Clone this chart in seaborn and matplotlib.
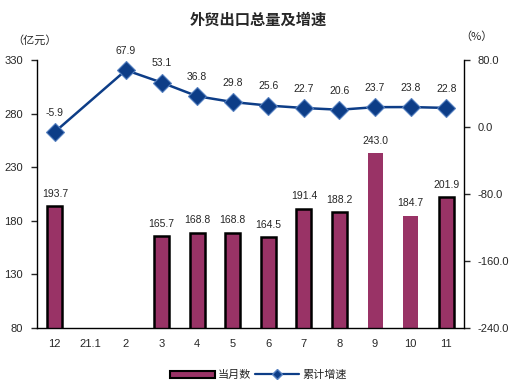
import numpy as np
import pandas as pd
import matplotlib
matplotlib.use("Agg")
import matplotlib.pyplot as plt
import seaborn as sns
from matplotlib.lines import Line2D
from matplotlib.patches import Patch

months = ["12", "21.1", "2", "3", "4", "5", "6", "7", "8", "9", "10", "11"]
monthly = [193.7, np.nan, np.nan, 165.7, 168.8, 168.8, 164.5, 191.4, 188.2, 243.0, 184.7, 201.9]
growth = [-5.9, np.nan, 67.9, 53.1, 36.8, 29.8, 25.6, 22.7, 20.6, 23.7, 23.8, 22.8]
no_outline = ["9", "10"]

sns.set_style("white")
plt.rcParams["font.family"] = ["Liberation Sans", "Noto Sans CJK SC", "DejaVu Sans"]
plt.rcParams["font.size"] = 7.5

bar_color = "#993366"
line_color = "#0d3d87"
marker_edge = "#5580c0"

df = pd.DataFrame({"month": months, "monthly": monthly, "growth": growth})
df["pos"] = np.arange(len(df))

fig = plt.figure(figsize=(5.17, 3.92), dpi=100)
ax = fig.add_axes([37 / 517, 1 - 328 / 392, 427 / 517, 268 / 392])

sns.barplot(ax=ax, data=df, x="month", y="monthly", order=months, color=bar_color,
            width=0.42, saturation=1)
for patch in ax.patches:
    idx = int(round(patch.get_x() + patch.get_width() / 2))
    if months[idx] in no_outline:
        patch.set_edgecolor("none")
    else:
        patch.set_edgecolor("black")
        patch.set_linewidth(1.8)

for i, v in enumerate(monthly):
    if not np.isnan(v):
        ax.text(i, v + 7, f"{v:.1f}", ha="center", va="bottom", fontsize=7.5)

ax.set_ylim(80, 330)
ax.set_yticks([80, 130, 180, 230, 280, 330])
ax.set_xlim(-0.5, len(months) - 0.5)
ax.set_xlabel("")
ax.set_ylabel("")
ax.set_xticks(np.arange(len(months)))
ax.set_xticklabels(months)
ax.set_xticks(np.arange(len(months)) + 0.5, minor=True)
ax.tick_params(axis="x", which="major", length=0, pad=8, labelsize=8)
ax.tick_params(axis="x", which="minor", length=4, width=1, direction="out")
ax.tick_params(axis="y", length=4, width=1, direction="out", pad=6, labelsize=8)
for s in ["left", "bottom"]:
    ax.spines[s].set_linewidth(1)
    ax.spines[s].set_color("black")
ax.spines["top"].set_visible(False)
ax.spines["right"].set_visible(False)

ax2 = ax.twinx()
line_df = df.dropna(subset=["growth"])
sns.lineplot(ax=ax2, data=line_df, x="pos", y="growth", color=line_color, linewidth=1.8,
             marker="D", markersize=9, markerfacecolor=line_color,
             markeredgecolor=marker_edge, markeredgewidth=0.8)
for _, r in line_df.iterrows():
    ax2.text(r["pos"], r["growth"] + 17, f"{r['growth']:.1f}", ha="center", va="bottom", fontsize=7.5)
ax2.set_ylim(-240, 80)
ax2.set_yticks([-240, -160, -80, 0, 80])
ax2.set_yticklabels([f"{t:.1f}" for t in [-240, -160, -80, 0, 80]])
ax2.set_ylabel("")
ax2.set_xlabel("")
ax2.set_xlim(-0.5, len(months) - 0.5)
ax2.tick_params(axis="y", length=4, width=1, direction="out", pad=6, labelsize=8)
ax2.spines["right"].set_linewidth(1)
ax2.spines["right"].set_color("black")
for s in ["top", "left", "bottom"]:
    ax2.spines[s].set_visible(False)

fig.text(0.5, 1 - 20 / 392, "外贸出口总量及增速", ha="center", va="center",
         fontsize=11, fontweight="bold", family=["Noto Sans CJK SC"])
fig.text(35 / 517, 1 - 40 / 392, "（亿元）", ha="center", va="center", fontsize=8,
         family=["Noto Sans CJK SC"])
fig.text(476 / 517, 1 - 37 / 392, "（%）", ha="center", va="center", fontsize=8,
         family=["Noto Sans CJK SC"])

handles = [Patch(facecolor=bar_color, edgecolor="black", linewidth=1.5),
           Line2D([0], [0], color=line_color, linewidth=1.6, marker="D", markersize=5,
                  markerfacecolor=line_color, markeredgecolor=marker_edge)]
fig.legend(handles, ["当月数", "累计增速"], loc="center", bbox_to_anchor=(0.5, 1 - 375 / 392),
           ncol=2, frameon=False, fontsize=8, handlelength=4, handleheight=0.6,
           columnspacing=0.3, handletextpad=0.3)

fig.savefig("out.png", dpi=100)
